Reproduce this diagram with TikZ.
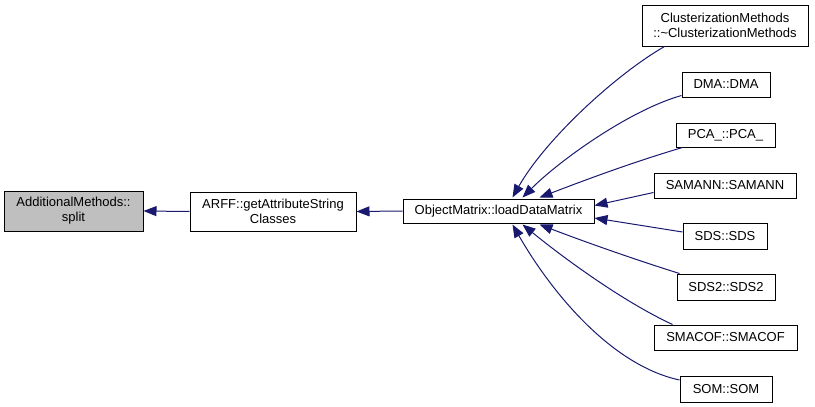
\documentclass[tikz,border=0pt]{standalone}
\usepackage{fontspec}
\setmainfont{Liberation Sans}
\usetikzlibrary{arrows.meta}
\definecolor{edgeblue}{HTML}{191970}
\definecolor{boxgray}{HTML}{BFBFBF}
\begin{document}
\begin{tikzpicture}[x=0.75pt,y=-0.75pt,
  fn/.style={draw=black,line width=0.75pt,fill=white,inner sep=0pt,align=center,
    font=\fontsize{9.75pt}{11.25pt}\selectfont},
  cur/.style={fn,fill=boxgray},
  call/.style={draw=edgeblue,line width=0.75pt,-{Triangle[length=9.75pt,width=7.5pt]}}]
\useasboundingbox (0,0) rectangle (815,407);
\node[cur,minimum width=139*0.75pt,minimum height=40*0.75pt] (split) at (73.5,211) {AdditionalMethods::\\split};
\node[fn,minimum width=166*0.75pt,minimum height=39*0.75pt] (arff) at (273,211.5) {ARFF::getAttributeString\\Classes};
\node[fn,minimum width=191*0.75pt,minimum height=24*0.75pt] (ldm) at (498.5,211) {ObjectMatrix::loadDataMatrix};
\node[fn,minimum width=166*0.75pt,minimum height=41*0.75pt] (clus) at (725,25.5) {ClusterizationMethods\\::\textasciitilde ClusterizationMethods};
\node[fn,minimum width=88*0.75pt,minimum height=25*0.75pt] (dma) at (726,84.5) {DMA::DMA};
\node[fn,minimum width=99*0.75pt,minimum height=24*0.75pt] (pca) at (725.5,135) {PCA\_::PCA\_};
\node[fn,minimum width=142*0.75pt,minimum height=25*0.75pt] (samann) at (725,185.5) {SAMANN::SAMANN};
\node[fn,minimum width=84*0.75pt,minimum height=26*0.75pt] (sds) at (725,236) {SDS::SDS};
\node[fn,minimum width=98*0.75pt,minimum height=26*0.75pt] (sds2) at (726,287) {SDS2::SDS2};
\node[fn,minimum width=143*0.75pt,minimum height=25*0.75pt] (smacof) at (725.5,337.5) {SMACOF::SMACOF};
\node[fn,minimum width=92*0.75pt,minimum height=26*0.75pt] (som) at (726,389) {SOM::SOM};
\draw[call] (arff.west) -- (split.east);
\draw[call] (ldm.west) -- (arff.east);
\draw[call] ([xshift=23*0.75pt]clus.south west) .. controls (615,75) and (545,140) .. ([xshift=110*0.75pt,yshift=0.75pt]ldm.north west);
\draw[call] ([yshift=-11*0.75pt]dma.west) .. controls (630,110) and (560,160) .. ([xshift=120*0.75pt,yshift=0.75pt]ldm.north west);
\draw[call] ([xshift=7*0.75pt]pca.south west) .. controls (630,163) and (580,182) .. ([xshift=137*0.75pt,yshift=0.75pt]ldm.north west);
\draw[call] ([yshift=-7*0.75pt]samann.west) -- ([yshift=5.5*0.75pt]ldm.east);
\draw[call] ([yshift=4*0.75pt]sds.west) -- ([yshift=-7*0.75pt]ldm.east);
\draw[call] ([xshift=3*0.75pt]sds2.north west) .. controls (630,258) and (580,240) .. ([xshift=137*0.75pt,yshift=-0.75pt]ldm.south west);
\draw[call] ([xshift=19*0.75pt]smacof.north west) .. controls (620,300) and (560,255) .. ([xshift=120*0.75pt,yshift=-0.75pt]ldm.south west);
\draw[call] ([yshift=9*0.75pt]som.west) .. controls (610,365) and (550,290) .. ([xshift=110*0.75pt,yshift=-0.75pt]ldm.south west);
\end{tikzpicture}
\end{document}
